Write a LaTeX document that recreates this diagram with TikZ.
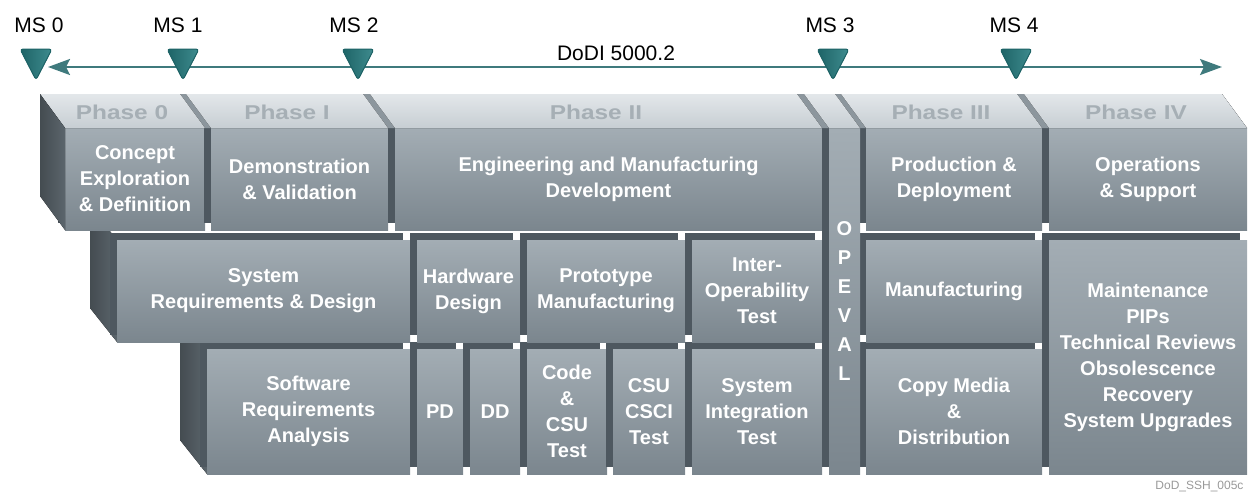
\documentclass[tikz,border=0pt]{standalone}
\usepackage{fontspec}
\setmainfont{Liberation Sans}
\newfontfamily\widefont[FakeStretch=1.22]{Liberation Sans}
\usetikzlibrary{arrows.meta,shadows}

\definecolor{tealdark}{HTML}{1D6366}
\definecolor{teallight}{HTML}{3F8C8F}
\definecolor{facetop}{HTML}{A3ADB4}
\definecolor{facebot}{HTML}{7B868E}
\definecolor{bevelc}{HTML}{4E5860}
\definecolor{sidec}{HTML}{5B656C}
\definecolor{lidtop}{HTML}{E3E7EA}
\definecolor{lidbot}{HTML}{C7CED3}
\definecolor{lidgap}{HTML}{8C969D}
\definecolor{phasec}{HTML}{A6AFB5}

\tikzset{
  cell/.style={rectangle, inner sep=0pt, outer sep=0pt,
    top color=facetop, bottom color=facebot,
    general shadow={fill=bevelc, shadow xshift=-7pt, shadow yshift=7pt},
    text=white, align=center, font=\fontsize{20}{26}\selectfont\bfseries},
  lid/.style={top color=lidtop, bottom color=lidbot},
  side/.style={left color=sidec!75!black, right color=sidec},
  mstri/.style={left color=tealdark, right color=teallight, draw=tealdark,
    line width=1pt, rounded corners=3pt, line join=round},
  mslabel/.style={font=\fontsize{21}{24}\selectfont},
  phase/.style={text=phasec, font=\widefont\fontsize{20}{22}\selectfont\bfseries},
}

\begin{document}
\begin{tikzpicture}[x=1pt,y=-1pt]
  \useasboundingbox (0,0) rectangle (1249,493);

  % timeline
  \coordinate (tl0) at (48,67);
  \coordinate (tl1) at (1222,67);
  \draw[tealdark!85!white, line width=2.5pt,
    {Stealth[length=22pt,width=16pt,inset=4pt]}-{Stealth[length=22pt,width=16pt,inset=4pt]}]
    (tl0) -- (tl1);
  \node[mslabel] (dodi) at (616,53) {DoDI 5000.2};
  \foreach \i/\x/\lx in {0/36/39, 1/183/178, 2/358/354, 3/833/830, 4/1016/1014} {
    \filldraw[mstri] (\x-16,49) -- (\x+16,49) -- (\x,80) -- cycle;
    \node[mslabel] (ms\i) at (\lx,25) {MS \i};
  }

  % bottom row
  \fill[side] (207,349) -- (180,315) -- (180,440) -- (207,474) -- cycle;
  \foreach \xa/\xb/\ya/\yb/\nm/\txt in {
      207/410/349/474/swreq/{Software\\Requirements\\Analysis},
      417/463/349/474/pd/{PD},
      470/520/349/474/dd/{DD},
      527/607/349/474/code/{Code\\\&\\CSU\\Test},
      613/685/349/474/csci/{CSU\\CSCI\\Test},
      692/822/349/474/sysint/{System\\Integration\\Test},
      866/1042/349/474/copy/{Copy Media\\\&\\Distribution}}
    \node[cell, minimum width=\xb-\xa, minimum height=\yb-\ya]
      (\nm) at ({(\xa+\xb)/2},{(\ya+\yb)/2}) {\txt};

  % middle row
  \fill[side] (117,240) -- (90,206) -- (90,308) -- (117,342) -- cycle;
  \foreach \xa/\xb/\ya/\yb/\nm/\txt in {
      117/410/240/342/sysreq/{System\\Requirements \& Design},
      417/520/240/342/hw/{Hardware\\Design},
      527/685/240/342/proto/{Prototype\\Manufacturing},
      692/822/240/342/inter/{Inter-\\Operability\\Test},
      866/1042/240/342/mfg/{Manufacturing},
      1049/1247/240/474/maint/{Maintenance\\PIPs\\Technical Reviews\\Obsolescence\\Recovery\\System Upgrades}}
    \node[cell, minimum width=\xb-\xa, minimum height=\yb-\ya]
      (\nm) at ({(\xa+\xb)/2},{(\ya+\yb)/2}) {\txt};

  % top row (phases)
  \foreach \xa/\xb/\nm/\txt in {
      65/205/concept/{Concept\\Exploration\\\& Definition},
      211/388/demo/{Demonstration\\\& Validation},
      395/822/emd/{Engineering and Manufacturing\\Development},
      866/1042/prod/{Production \&\\Deployment},
      1049/1247/ops/{Operations\\\& Support}}
    \node[cell, minimum width=\xb-\xa, minimum height=102]
      (\nm) at ({(\xa+\xb)/2},179) {\txt};
  \node[cell, minimum width=31, minimum height=346,
    font=\fontsize{20}{29}\selectfont\bfseries]
    (opeval) at (844.5,301) {O\\P\\E\\V\\A\\L};

  % lids and side of the first block
  \fill[lidgap] (40,94) -- (1222,94) -- (1247,128) -- (65,128) -- cycle;
  \foreach \xa/\xb in {65/205, 211/388, 395/822, 829/860, 866/1042, 1049/1247}
    \fill[lid] (\xa,128) -- (\xa-25,94) -- (\xb-25,94) -- (\xb,128) -- cycle;
  \fill[side] (65,128) -- (40,94) -- (40,196) -- (65,230) -- cycle;

  \foreach \nm/\x/\txt in {ph0/122/Phase 0, ph1/287/Phase I, ph2/596/Phase II,
      ph3/941/Phase III, ph4/1136/Phase IV}
    \node[phase] (\nm) at (\x,112) {\txt};

  \node[anchor=east, text=black!40, font=\fontsize{12}{14}\selectfont]
    (tag) at (1247,486) {DoD\_SSH\_005c};
\end{tikzpicture}
\end{document}
